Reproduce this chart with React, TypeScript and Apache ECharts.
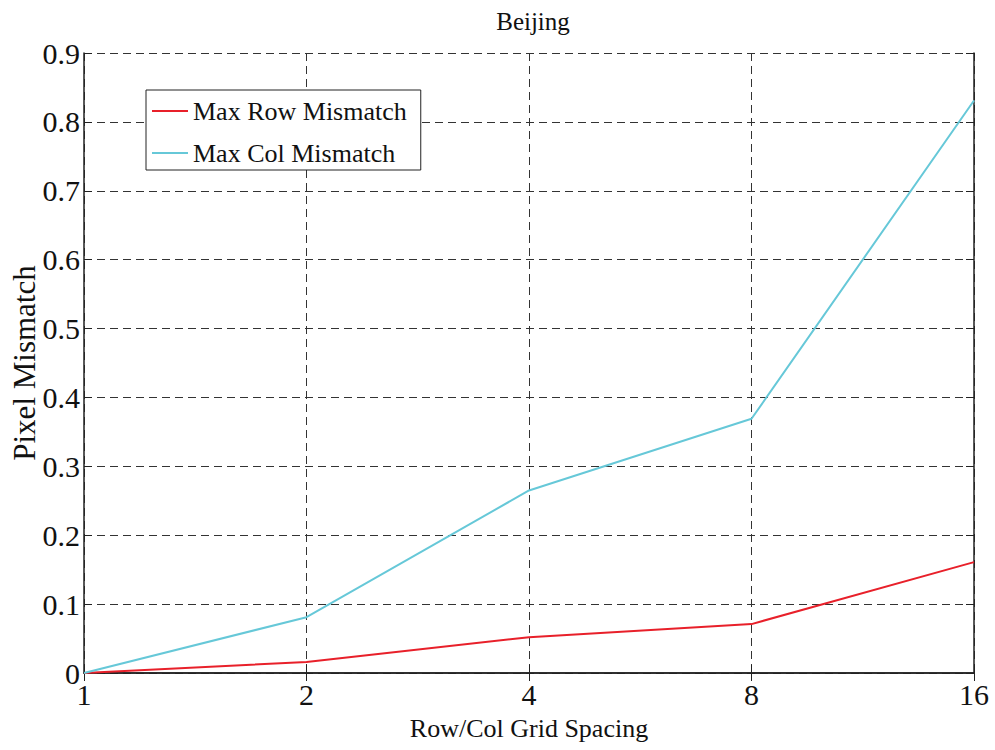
import React, { useEffect, useRef } from "react";
import * as echarts from "echarts";

const categories = ["1", "2", "4", "8", "16"];
const maxRowMismatch = [0, 0.016, 0.052, 0.071, 0.161];
const maxColMismatch = [0, 0.081, 0.265, 0.369, 0.831];
const FONT = '"Liberation Serif", "Times New Roman", serif';

export default function App() {
  const ref = useRef<HTMLDivElement>(null);
  useEffect(() => {
    if (!ref.current) return;
    const chart = echarts.init(ref.current, undefined, { renderer: "svg" });
    const tickLabel = { fontFamily: FONT, fontSize: 30, color: "#111" };
    const axisLine = { show: true, lineStyle: { color: "#222", width: 1.5 } };
    const tick = { show: true, inside: true, length: 8, lineStyle: { color: "#222", width: 1 } };
    chart.setOption({
      animation: false,
      backgroundColor: "#fff",
      title: {
        text: "Beijing",
        left: 528,
        textAlign: "center",
        top: 4,
        textStyle: { fontFamily: FONT, fontSize: 25, fontWeight: "normal", color: "#111" },
      },
      legend: {
        orient: "vertical",
        left: 146,
        top: 90,
        padding: [8, 14, 4, 6],
        itemGap: 16,
        itemWidth: 36,
        itemHeight: 2,
        icon: "rect",
        borderColor: "#222",
        borderWidth: 1,
        backgroundColor: "#fff",
        textStyle: { fontFamily: FONT, fontSize: 26, color: "#111" },
        data: ["Max Row Mismatch", "Max Col Mismatch"],
      },
      grid: { left: 84, right: 21, top: 53, bottom: 77, containLabel: false, outerBoundsMode: "none" },
      xAxis: [
        {
          type: "category",
          data: categories,
          boundaryGap: false,
          name: "Row/Col Grid Spacing",
          nameLocation: "middle",
          nameGap: 42,
          nameMoveOverlap: false,
          nameTextStyle: { fontFamily: FONT, fontSize: 26, color: "#111" },
          axisLine,
          axisTick: { ...tick, alignWithLabel: true },
          axisLabel: { ...tickLabel, margin: 6 },
          splitLine: { show: true, lineStyle: { color: "#333", type: [8, 5], width: 1 } },
        },
        {
          type: "category",
          data: categories,
          boundaryGap: false,
          position: "top",
          axisLine,
          axisTick: tick,
          axisLabel: { show: false },
          splitLine: { show: false },
        },
      ],
      yAxis: [
        {
          type: "value",
          min: 0,
          max: 0.9,
          interval: 0.1,
          name: "Pixel Mismatch",
          nameLocation: "middle",
          nameGap: 44,
          nameMoveOverlap: false,
          nameTextStyle: { fontFamily: FONT, fontSize: 31, color: "#111" },
          axisLine,
          axisTick: tick,
          axisLabel: { ...tickLabel, margin: 4, formatter: (v: number) => (v === 0 ? "0" : String(Math.round(v * 10) / 10)) },
          splitLine: { show: true, lineStyle: { color: "#333", type: [8, 5], width: 1 } },
        },
        {
          type: "value",
          min: 0,
          max: 0.9,
          interval: 0.1,
          position: "right",
          axisLine,
          axisTick: tick,
          axisLabel: { show: false },
          splitLine: { show: false },
        },
      ],
      series: [
        {
          name: "Max Row Mismatch",
          type: "line",
          data: maxRowMismatch,
          symbol: "none",
          lineStyle: { color: "#e8202a", width: 2 },
          itemStyle: { color: "#e8202a" },
        },
        {
          name: "Max Col Mismatch",
          type: "line",
          data: maxColMismatch,
          symbol: "none",
          lineStyle: { color: "#66c8d8", width: 2 },
          itemStyle: { color: "#66c8d8" },
        },
      ],
    });
    return () => chart.dispose();
  }, []);
  return <div ref={ref} style={{ width: 995, height: 750, position: "absolute", left: 0, top: 0 }} />;
}
